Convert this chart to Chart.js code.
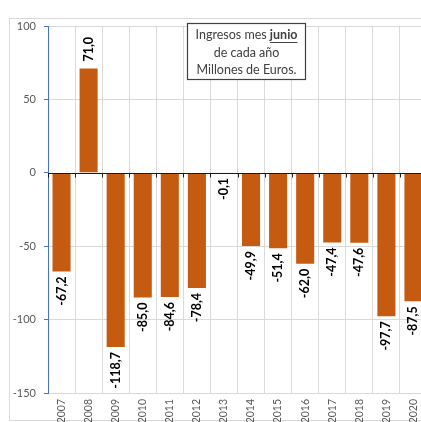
<!DOCTYPE html>
<html>
<head>
<meta charset="utf-8">
<script src="https://cdn.jsdelivr.net/npm/chart.js@4.4.1/dist/chart.umd.min.js"></script>
<style>
html,body{margin:0;padding:0;background:#fff;overflow:hidden;width:421px;height:422px;}
#wrap{width:421px;height:422px;overflow:hidden;position:relative;}
canvas{display:block;}
</style>
</head>
<body>
<div id="wrap"><canvas id="c" width="440" height="422"></canvas></div>
<script>
const years = ['2007','2008','2009','2010','2011','2012','2013','2014','2015','2016','2017','2018','2019','2020'];
const ingresos = [-67.2, 71.0, -118.7, -85.0, -84.6, -78.4, -0.1, -49.9, -51.4, -62.0, -47.4, -47.6, -97.7, -87.5];
const yTickLabels = ['-150','-100','-50','0','50','100'];
const titleLines = ['de cada año', 'Millones de Euros.'];
const titleFirstPlain = 'Ingresos mes ';
const titleFirstBold = 'junio';

const FONT = 'Lato, "Open Sans", sans-serif';
const BAR = '#C55A11';
const BLUE = '#4472C4';

const fmt = v => v.toFixed(1).replace('.', ',');

const decor = {
  id: 'decor',
  beforeDraw(chart) {
    const ctx = chart.ctx;
    ctx.save();
    ctx.strokeStyle = '#d9d9d9';
    ctx.lineWidth = 1;
    ctx.strokeRect(9.5, 18.5, 500, 402);
    ctx.restore();
  },
  afterDatasetsDraw(chart) {
    const ctx = chart.ctx;
    const ys = chart.scales.y, xs = chart.scales.x;
    const ca = chart.chartArea;
    const y0 = Math.round(ys.getPixelForValue(0)) + 0.5;
    ctx.save();
    // zero (category) axis line with ticks
    ctx.strokeStyle = '#1a1a1a';
    ctx.lineWidth = 1;
    ctx.beginPath();
    ctx.moveTo(ca.left, y0);
    ctx.lineTo(ca.right, y0);
    const n = years.length;
    const w = (ca.right - ca.left) / n;
    for (let i = 0; i <= n; i++) {
      const x = Math.round(ca.left + i * w) + 0.5;
      ctx.moveTo(x, y0);
      ctx.lineTo(x, y0 + 4);
    }
    ctx.stroke();
    // data labels
    const meta = chart.getDatasetMeta(0);
    ctx.fillStyle = '#000';
    ctx.font = 'bold 12.5px ' + FONT;
    ctx.textBaseline = 'middle';
    meta.data.forEach((el, i) => {
      const v = ingresos[i];
      ctx.save();
      if (v < 0) {
        ctx.translate(el.x, el.y + 5);
        ctx.rotate(-Math.PI / 2);
        ctx.textAlign = 'right';
      } else {
        ctx.translate(el.x, el.y - 7);
        ctx.rotate(-Math.PI / 2);
        ctx.textAlign = 'left';
      }
      ctx.fillText(fmt(v), 0, 0);
      ctx.restore();
    });
    ctx.restore();
  },
  afterDraw(chart) {
    const ctx = chart.ctx;
    ctx.save();
    const bx = 187.5, by = 23.5, bw = 118, bh = 56;
    ctx.fillStyle = '#fff';
    ctx.fillRect(bx, by, bw, bh);
    ctx.strokeStyle = '#404040';
    ctx.lineWidth = 1.2;
    ctx.strokeRect(bx, by, bw, bh);
    const cx = bx + bw / 2;
    ctx.fillStyle = '#404040';
    ctx.textBaseline = 'middle';
    const fs = 12.5;
    const fPlain = fs + 'px ' + FONT;
    const fBold = 'bold ' + fs + 'px ' + FONT;
    ctx.font = fPlain;
    const w1 = ctx.measureText(titleFirstPlain).width;
    ctx.font = fBold;
    const w2 = ctx.measureText(titleFirstBold).width;
    const sx = cx - (w1 + w2) / 2;
    const ly1 = by + 11.5;
    ctx.textAlign = 'left';
    ctx.font = fPlain;
    ctx.fillText(titleFirstPlain, sx, ly1);
    ctx.font = fBold;
    ctx.fillText(titleFirstBold, sx + w1, ly1);
    ctx.fillRect(sx + w1, ly1 + 7, w2, 1);
    ctx.font = fPlain;
    ctx.textAlign = 'center';
    titleLines.forEach((t, i) => ctx.fillText(t, cx, ly1 + (i + 1) * 17.5));
    ctx.restore();
  }
};

new Chart(document.getElementById('c'), {
  type: 'bar',
  data: {
    labels: years,
    datasets: [{
      data: ingresos,
      backgroundColor: BAR,
      borderWidth: 0,
      categoryPercentage: 1,
      barPercentage: 0.667
    }]
  },
  options: {
    responsive: false,
    animation: false,
    devicePixelRatio: 1,
    layout: { padding: { top: 26, right: 13, left: 0, bottom: 0 } },
    plugins: { legend: { display: false }, tooltip: { enabled: false } },
    scales: {
      x: {
        afterFit(s) { s.height = 29; },
        grid: { color: '#d9d9d9', offset: true, drawTicks: false, lineWidth: 1 },
        border: { display: false },
        ticks: {
          color: '#595959',
          font: { family: FONT, size: 10.5 },
          minRotation: 90, maxRotation: 90,
          padding: 6
        }
      },
      y: {
        min: -150, max: 100,
        afterFit(s) { s.width = 48; },
        grid: {
          color: ctx => (ctx.tick && ctx.tick.value === 0) ? 'rgba(0,0,0,0)' : '#d9d9d9',
          tickColor: BLUE,
          tickLength: 4,
          drawTicks: true
        },
        border: { display: true, color: BLUE, width: 1 },
        ticks: {
          stepSize: 50,
          color: '#595959',
          font: { family: FONT, size: 11 },
          padding: 8,
          callback: (v) => yTickLabels[yTickLabels.indexOf(String(v))] ?? ''
        }
      }
    }
  },
  plugins: [decor]
});
</script>
</body>
</html>
